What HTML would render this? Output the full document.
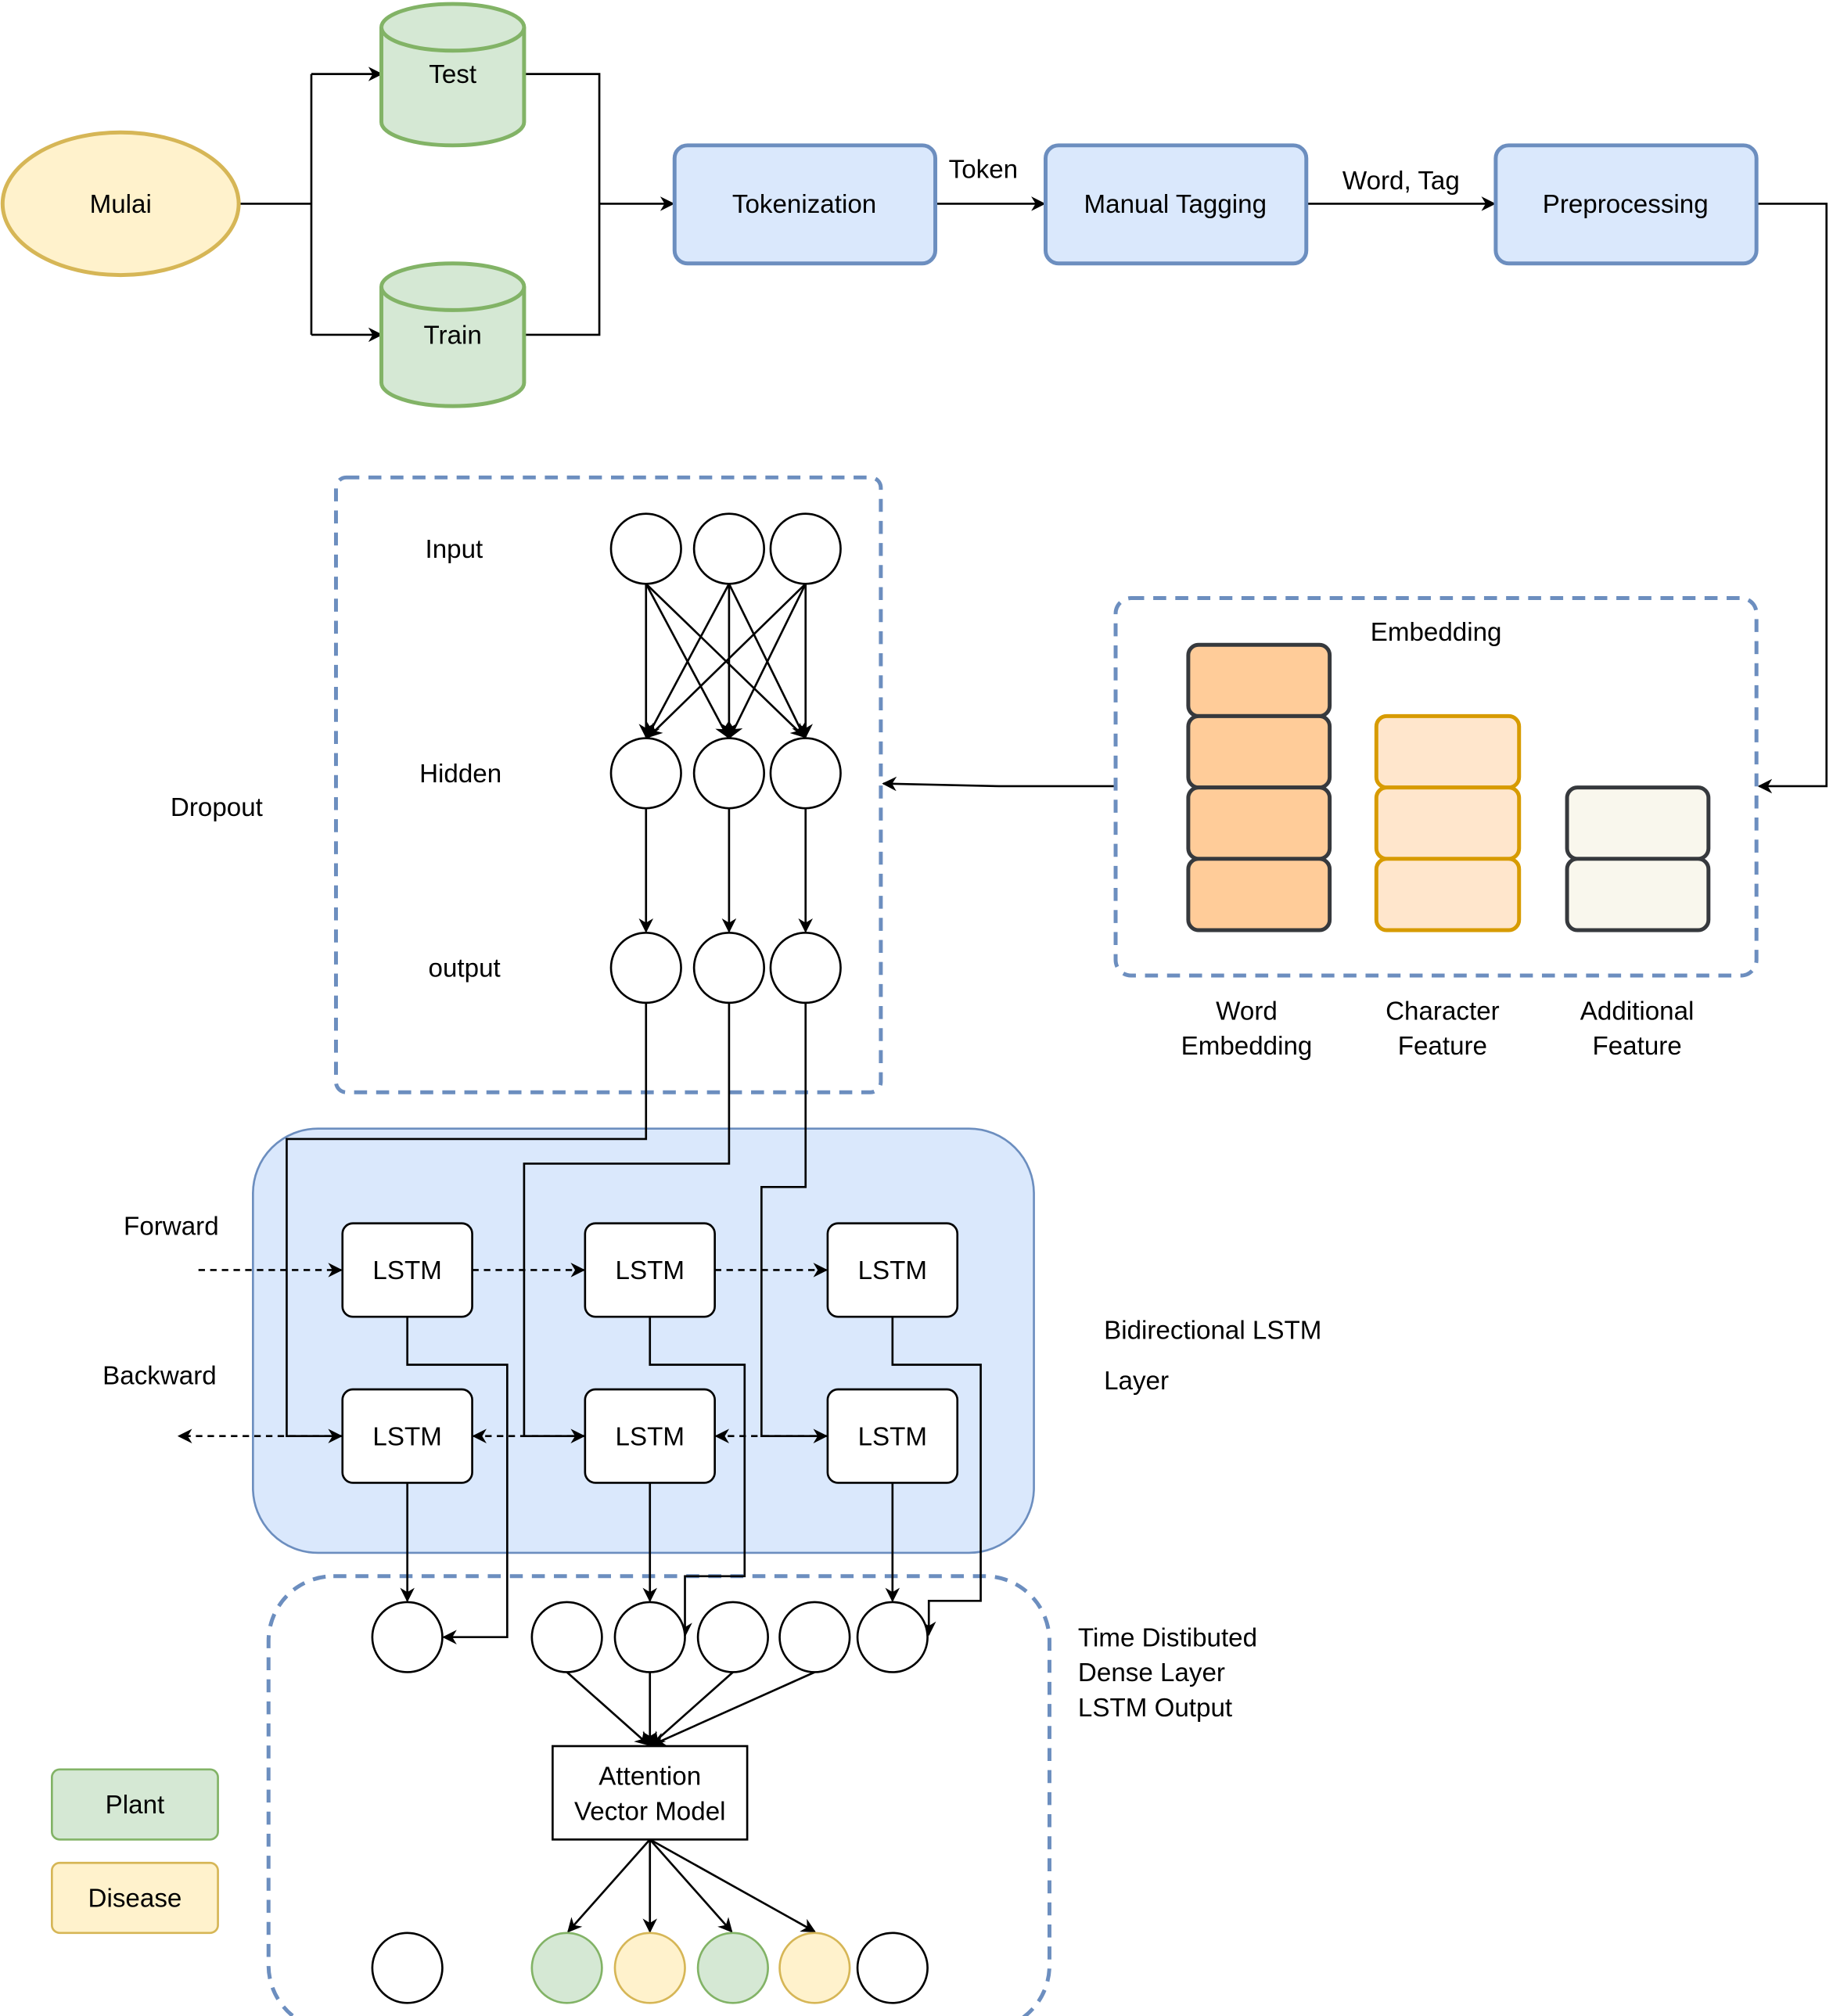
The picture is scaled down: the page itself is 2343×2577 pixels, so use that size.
<!DOCTYPE html>
<html><head><meta charset="utf-8"><style>html,body{margin:0;padding:0;background:#fff}svg{display:block}</style></head><body>
<svg xmlns="http://www.w3.org/2000/svg" width="2343" height="2577" viewBox="0 0 1413 1554" font-family="Liberation Sans, sans-serif" font-size="20">
<defs><marker id="a" viewBox="0 0 10 10" refX="9" refY="5" markerWidth="7" markerHeight="7" orient="auto-start-reverse"><path d="M0,0 L10,5 L0,10 L3,5 z" fill="#000"/></marker></defs>
<rect width="1413" height="1554" fill="#fff"/>
<g fill="none" stroke="#000" stroke-width="1.6">
<path d="M185,157 H240 M240,57 V258"/>
<path d="M240,57 H294" marker-end="url(#a)"/>
<path d="M240,258 H294" marker-end="url(#a)"/>
<path d="M404,57 H462 V258 H404"/>
<path d="M462,157 H519" marker-end="url(#a)"/>
<path d="M721,157 H805" marker-end="url(#a)"/>
<path d="M1007,157 H1152" marker-end="url(#a)"/>
<path d="M1354,157 H1408 V606 H1356" marker-end="url(#a)"/>
<path d="M860,606 H770 L681,604" marker-end="url(#a)"/>
</g>
<ellipse cx="93" cy="157" rx="91" ry="55" fill="#fff2cc" stroke="#d6b656" stroke-width="3"/>
<text x="93" y="164" text-anchor="middle">Mulai</text>
<g fill="#d5e8d4" stroke="#82b366" stroke-width="3">
<path d="M294,21 A55,18 0 0 1 404,21 V94 A55,18 0 0 1 294,94 Z"/><path d="M294,21 A55,18 0 0 0 404,21"/>
<path d="M294,221 A55,18 0 0 1 404,221 V295 A55,18 0 0 1 294,295 Z"/><path d="M294,221 A55,18 0 0 0 404,221"/>
</g>
<text x="349" y="64" text-anchor="middle">Test</text>
<text x="349" y="265" text-anchor="middle">Train</text>
<g fill="#dae8fc" stroke="#6c8ebf" stroke-width="3">
<rect x="520" y="112" width="201" height="91" rx="10"/>
<rect x="806" y="112" width="201" height="91" rx="10"/>
<rect x="1153" y="112" width="201" height="91" rx="10"/>
</g>
<text x="620" y="164" text-anchor="middle">Tokenization</text>
<text x="906" y="164" text-anchor="middle">Manual Tagging</text>
<text x="1253" y="164" text-anchor="middle">Preprocessing</text>
<text x="758" y="137" text-anchor="middle">Token</text>
<text x="1080" y="146" text-anchor="middle">Word, Tag</text>
<rect x="860" y="461" width="494" height="291" rx="12" fill="none" stroke="#6c8ebf" stroke-width="3" stroke-dasharray="10,7"/>
<text x="1107" y="494" text-anchor="middle">Embedding</text>
<g stroke-width="3">
<g fill="#ffcc99" stroke="#36393d"><rect x="916" y="497" width="109" height="55" rx="8"/><rect x="916" y="552" width="109" height="55" rx="8"/><rect x="916" y="607" width="109" height="55" rx="8"/><rect x="916" y="662" width="109" height="55" rx="8"/></g>
<g fill="#ffe6cc" stroke="#d79b00"><rect x="1061" y="552" width="110" height="55" rx="8"/><rect x="1061" y="607" width="110" height="55" rx="8"/><rect x="1061" y="662" width="110" height="55" rx="8"/></g>
<g fill="#f9f7ed" stroke="#36393d"><rect x="1208" y="607" width="109" height="55" rx="8"/><rect x="1208" y="662" width="109" height="55" rx="8"/></g>
</g>
<g text-anchor="middle"><text x="961" y="786">Word</text><text x="961" y="813">Embedding</text>
<text x="1112" y="786">Character</text><text x="1112" y="813">Feature</text>
<text x="1262" y="786">Additional</text><text x="1262" y="813">Feature</text></g>
<rect x="259" y="368" width="420" height="474" rx="8" fill="none" stroke="#6c8ebf" stroke-width="3" stroke-dasharray="10,7"/>
<text x="167" y="629" text-anchor="middle">Dropout</text>
<text x="350" y="430" text-anchor="middle">Input</text>
<text x="355" y="603" text-anchor="middle">Hidden</text>
<text x="358" y="753" text-anchor="middle">output</text>
<g fill="none" stroke="#000" stroke-width="1.6">
<path d="M498,450 L498,568" marker-end="url(#a)"/><path d="M498,450 L561,568" marker-end="url(#a)"/><path d="M498,450 L620,568" marker-end="url(#a)"/>
<path d="M562,450 L499,568" marker-end="url(#a)"/><path d="M562,450 L562,568" marker-end="url(#a)"/><path d="M562,450 L620,568" marker-end="url(#a)"/>
<path d="M621,450 L500,568" marker-end="url(#a)"/><path d="M621,450 L563,568" marker-end="url(#a)"/><path d="M621,450 L621,568" marker-end="url(#a)"/>
<path d="M498,623 V718" marker-end="url(#a)"/><path d="M562,623 V718" marker-end="url(#a)"/><path d="M621,623 V718" marker-end="url(#a)"/>
</g>
<rect x="195" y="870" width="602" height="327" rx="50" fill="#dae8fc" stroke="#6c8ebf" stroke-width="1.6"/>
<g fill="none" stroke="#000" stroke-width="1.6">
<path d="M498,773 V878 H221 V1107 H263" marker-end="url(#a)"/>
<path d="M562,773 V897 H404 V1107 H450" marker-end="url(#a)"/>
<path d="M621,773 V915 H587 V1107 H637" marker-end="url(#a)"/>
<g stroke-dasharray="5,4"><path d="M153,979 H263" marker-end="url(#a)"/><path d="M364,979 H450" marker-end="url(#a)"/><path d="M551,979 H637" marker-end="url(#a)"/>
<path d="M264,1107 H138" marker-end="url(#a)"/><path d="M451,1107 H365" marker-end="url(#a)"/><path d="M638,1107 H552" marker-end="url(#a)"/></g>
</g>
<g fill="#fff" stroke="#000" stroke-width="1.6">
<rect x="264" y="943" width="100" height="72" rx="8"/><rect x="451" y="943" width="100" height="72" rx="8"/><rect x="638" y="943" width="100" height="72" rx="8"/>
<rect x="264" y="1071" width="100" height="72" rx="8"/><rect x="451" y="1071" width="100" height="72" rx="8"/><rect x="638" y="1071" width="100" height="72" rx="8"/>
</g>
<g text-anchor="middle"><text x="314" y="986">LSTM</text><text x="501" y="986">LSTM</text><text x="688" y="986">LSTM</text>
<text x="314" y="1114">LSTM</text><text x="501" y="1114">LSTM</text><text x="688" y="1114">LSTM</text></g>
<text x="132" y="952" text-anchor="middle">Forward</text>
<text x="123" y="1067" text-anchor="middle">Backward</text>
<text x="851" y="1032">Bidirectional LSTM</text>
<text x="851" y="1071">Layer</text>
<rect x="207" y="1215" width="602" height="350" rx="50" fill="none" stroke="#6c8ebf" stroke-width="3" stroke-dasharray="10,7"/>
<text x="831" y="1269">Time Distibuted</text><text x="831" y="1296">Dense Layer</text><text x="831" y="1323">LSTM Output</text>
<g fill="none" stroke="#000" stroke-width="1.6">
<path d="M314,1015 V1052 H391 V1262 H342" marker-end="url(#a)"/>
<path d="M501,1015 V1052 H574 V1215 H528 V1261" marker-end="url(#a)"/>
<path d="M688,1015 V1052 H756 V1234 H716 V1260" marker-end="url(#a)"/>
<path d="M314,1143 V1234" marker-end="url(#a)"/><path d="M501,1143 V1234" marker-end="url(#a)"/><path d="M688,1143 V1234" marker-end="url(#a)"/>
<path d="M437,1289 L500,1345" marker-end="url(#a)"/><path d="M501,1289 V1345" marker-end="url(#a)"/><path d="M565,1289 L502,1345" marker-end="url(#a)"/><path d="M628,1289 L503,1345" marker-end="url(#a)"/>
<path d="M501,1418 L438,1489" marker-end="url(#a)"/><path d="M501,1418 V1489" marker-end="url(#a)"/><path d="M501,1418 L564,1489" marker-end="url(#a)"/><path d="M501,1418 L628,1489" marker-end="url(#a)"/>
</g>
<g stroke="#000" stroke-width="1.6" fill="#fff">
<circle cx="498" cy="423" r="27"/><circle cx="562" cy="423" r="27"/><circle cx="621" cy="423" r="27"/>
<circle cx="498" cy="596" r="27"/><circle cx="562" cy="596" r="27"/><circle cx="621" cy="596" r="27"/>
<circle cx="498" cy="746" r="27"/><circle cx="562" cy="746" r="27"/><circle cx="621" cy="746" r="27"/>
<circle cx="314" cy="1262" r="27"/><circle cx="437" cy="1262" r="27"/><circle cx="501" cy="1262" r="27"/><circle cx="565" cy="1262" r="27"/><circle cx="628" cy="1262" r="27"/><circle cx="688" cy="1262" r="27"/>
<circle cx="314" cy="1517" r="27"/><circle cx="688" cy="1517" r="27"/>
</g>
<g stroke-width="1.6"><circle cx="437" cy="1517" r="27" fill="#d5e8d4" stroke="#82b366"/><circle cx="501" cy="1517" r="27" fill="#fff2cc" stroke="#d6b656"/><circle cx="565" cy="1517" r="27" fill="#d5e8d4" stroke="#82b366"/><circle cx="628" cy="1517" r="27" fill="#fff2cc" stroke="#d6b656"/></g>
<rect x="426" y="1346" width="150" height="72" fill="#fff" stroke="#000" stroke-width="1.6"/>
<text x="501" y="1376" text-anchor="middle">Attention</text><text x="501" y="1403" text-anchor="middle">Vector Model</text>
<rect x="40" y="1364" width="128" height="54" rx="6" fill="#d5e8d4" stroke="#82b366" stroke-width="1.6"/>
<text x="104" y="1398" text-anchor="middle">Plant</text>
<rect x="40" y="1436" width="128" height="54" rx="6" fill="#fff2cc" stroke="#d6b656" stroke-width="1.6"/>
<text x="104" y="1470" text-anchor="middle">Disease</text>
</svg>
</body></html>
